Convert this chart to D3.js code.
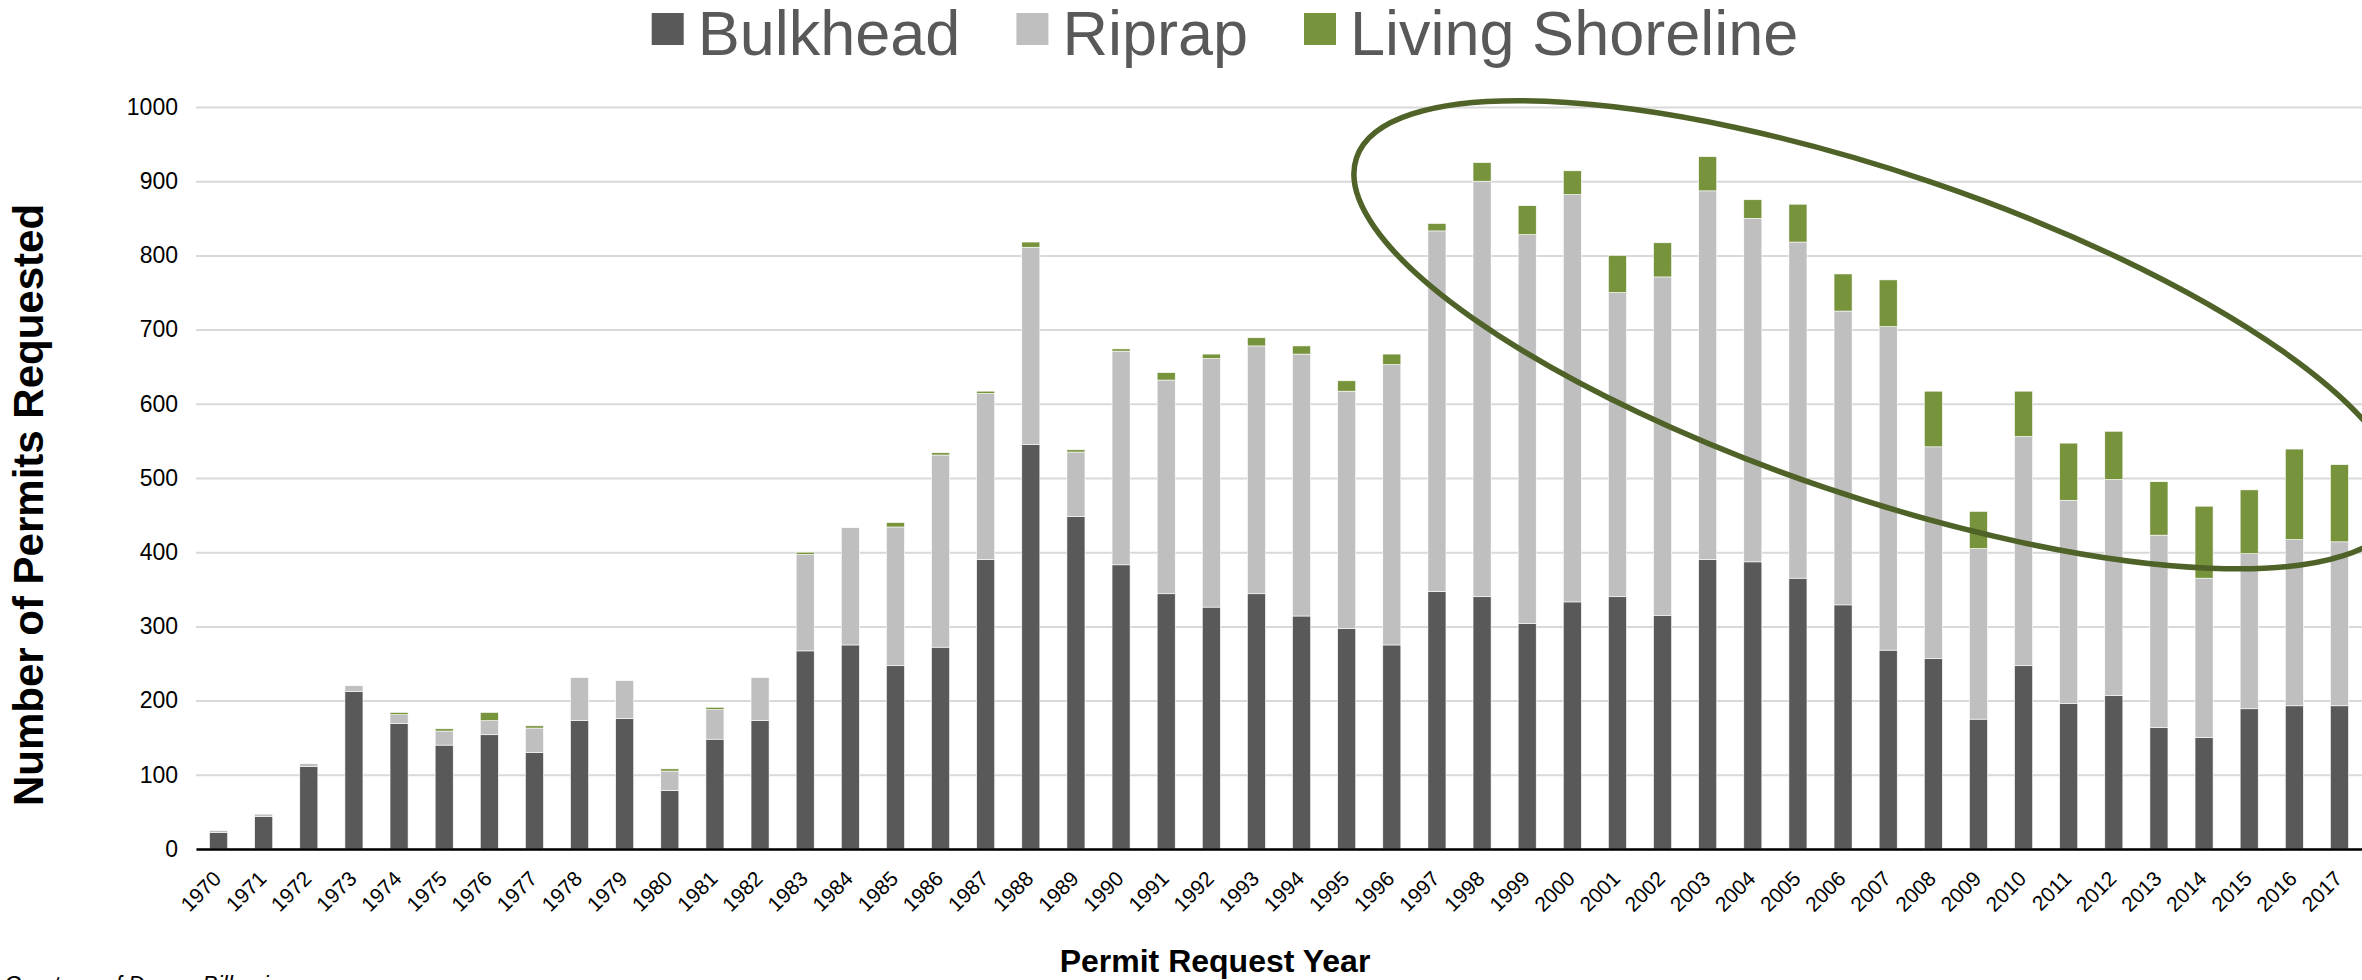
<!DOCTYPE html>
<html>
<head>
<meta charset="utf-8">
<script src="https://cdn.jsdelivr.net/npm/d3@7"></script>
<style>
  body { margin: 0; background: #fff; }
  svg { display: block; font-family: "Liberation Sans", Arial, sans-serif; }
</style>
</head>
<body>
<div id="chart"></div>
<script>
// categories + series
var years = ["1970","1971","1972","1973","1974","1975","1976","1977","1978","1979",
  "1980","1981","1982","1983","1984","1985","1986","1987","1988","1989",
  "1990","1991","1992","1993","1994","1995","1996","1997","1998","1999",
  "2000","2001","2002","2003","2004","2005","2006","2007","2008","2009",
  "2010","2011","2012","2013","2014","2015","2016","2017"];

var bulkhead = [22,44,111,212,169,140,154,130,173,176,
  79,148,173,267,275,247,272,390,545,448,
  383,344,326,344,314,297,275,347,340,304,
  333,340,315,390,387,365,329,268,257,175,
  247,196,207,164,150,189,193,193];

var riprap = [3,3,4,8,12,19,19,33,58,51,
  26,40,58,130,158,187,259,224,266,87,
  288,288,335,334,353,320,378,486,560,524,
  549,410,456,497,463,453,396,436,285,230,
  309,274,291,259,215,209,224,221];

var living = [0,0,0,0,3,3,11,3,0,0,
  3,3,0,3,0,6,3,3,7,3,
  3,10,6,11,11,14,14,10,25,39,
  32,50,46,46,25,51,50,63,75,50,
  61,77,65,72,97,86,122,104];

var yTicks = [0,100,200,300,400,500,600,700,800,900,1000];
var seriesNames = ["Bulkhead", "Riprap", "Living Shoreline"];
var seriesColors = ["#595959", "#bfbfbf", "#77933c"];

// circled region (in year / value units)
var ringCenterYear = 2006.77;
var ringCenterValue = 693;
var ringRadiusYears = 12.2;
var ringRadiusValue = 218;
var ringAngle = 18.75;

// svg and chart dimensions
var svgWidth = 2362;
var svgHeight = 980;

var margin = {
  top: 107,
  right: 0,
  bottom: 131,
  left: 196
};

var width = svgWidth - margin.left - margin.right;
var height = svgHeight - margin.top - margin.bottom;

var svg = d3.select("#chart")
  .append("svg")
  .attr("width", svgWidth)
  .attr("height", svgHeight);

var chartGroup = svg.append("g")
  .attr("transform", `translate(${margin.left}, ${margin.top})`);

// build table for the stack
var table = years.map(function(yr, i) {
  var row = { year: yr };
  row[seriesNames[0]] = bulkhead[i];
  row[seriesNames[1]] = riprap[i];
  row[seriesNames[2]] = living[i];
  return row;
});

var stacked = d3.stack().keys(seriesNames)(table);

// scales
var xBandScale = d3.scaleBand()
  .domain(years)
  .range([0, width])
  .paddingInner(0.6)
  .paddingOuter(0.3);

var yLinearScale = d3.scaleLinear()
  .domain([0, 1000])
  .range([height, 0]);

var color = d3.scaleOrdinal()
  .domain(seriesNames)
  .range(seriesColors);

// gridlines + y labels
var leftAxis = d3.axisLeft(yLinearScale)
  .tickValues(yTicks)
  .tickSize(-width)
  .tickPadding(18)
  .tickFormat(d3.format("d"));

var yAxisG = chartGroup.append("g").call(leftAxis);
yAxisG.select(".domain").remove();
yAxisG.selectAll(".tick line")
  .attr("stroke", "#d9d9d9")
  .attr("stroke-width", 2);
yAxisG.selectAll(".tick text")
  .attr("fill", "#000")
  .attr("font-size", 23)
  .attr("font-family", "Liberation Sans, Arial, sans-serif");

// bars
chartGroup.append("g")
  .selectAll("g")
  .data(stacked)
  .enter()
  .append("g")
  .attr("fill", d => color(d.key))
  .selectAll("rect")
  .data(d => d)
  .enter()
  .append("rect")
  .attr("x", d => xBandScale(d.data.year))
  .attr("y", d => yLinearScale(d[1]))
  .attr("height", d => yLinearScale(d[0]) - yLinearScale(d[1]))
  .attr("width", xBandScale.bandwidth())
  .attr("stroke", "#ffffff")
  .attr("stroke-width", 0.6);

// x axis
var bottomAxis = d3.axisBottom(xBandScale).tickSize(0);
var xAxisG = chartGroup.append("g")
  .attr("transform", `translate(0, ${height})`)
  .call(bottomAxis);

xAxisG.select(".domain")
  .attr("stroke", "#000")
  .attr("stroke-width", 2.5);

xAxisG.selectAll(".tick text")
  .attr("font-size", 21)
  .attr("font-family", "Liberation Sans, Arial, sans-serif")
  .attr("fill", "#000")
  .attr("text-anchor", "end")
  .attr("x", 4)
  .attr("y", 31)
  .attr("dy", 0)
  .attr("transform", "rotate(-45, 4, 31)");

// circled annotation
var yearScale = d3.scaleLinear()
  .domain([+years[0], +years[years.length - 1]])
  .range([xBandScale(years[0]) + xBandScale.bandwidth() / 2,
          xBandScale(years[years.length - 1]) + xBandScale.bandwidth() / 2]);

var ringCx = yearScale(ringCenterYear);
var ringCy = yLinearScale(ringCenterValue);

chartGroup.append("ellipse")
  .attr("cx", ringCx)
  .attr("cy", ringCy)
  .attr("rx", yearScale(ringCenterYear + ringRadiusYears) - ringCx)
  .attr("ry", yLinearScale(0) - yLinearScale(ringRadiusValue))
  .attr("transform", `rotate(${ringAngle}, ${ringCx}, ${ringCy})`)
  .attr("fill", "none")
  .attr("stroke", "#4f6228")
  .attr("stroke-width", 5.5);

// axis titles
svg.append("text")
  .attr("transform", "rotate(-90)")
  .attr("x", -505)
  .attr("y", 43)
  .attr("text-anchor", "middle")
  .attr("font-weight", "bold")
  .attr("font-size", 42)
  .attr("fill", "#000")
  .text("Number of Permits Requested");

svg.append("text")
  .attr("x", 1215)
  .attr("y", 972)
  .attr("text-anchor", "middle")
  .attr("font-weight", "bold")
  .attr("font-size", 32)
  .attr("fill", "#000")
  .text("Permit Request Year");

// credit line (cut off at the bottom like the original)
svg.append("text")
  .attr("x", 4)
  .attr("y", 993)
  .attr("font-style", "italic")
  .attr("font-size", 23)
  .attr("fill", "#000")
  .text("Courtesy of Donna Bilkovic");

// legend
var legend = svg.append("g");
var boxSize = 32;
var cursor = 0;
seriesNames.forEach(function(name, i) {
  var item = legend.append("g").attr("transform", `translate(${cursor}, 0)`);
  item.append("rect")
    .attr("x", 0)
    .attr("y", 13)
    .attr("width", boxSize)
    .attr("height", boxSize)
    .attr("fill", seriesColors[i]);
  var label = item.append("text")
    .attr("x", boxSize + 14)
    .attr("y", 55)
    .attr("font-size", 63)
    .attr("fill", "#595959")
    .text(name);
  cursor += boxSize + 14 + label.node().getComputedTextLength() + 56;
});
var legendWidth = cursor - 56;
legend.attr("transform", `translate(${1225 - legendWidth / 2}, 0)`);
</script>
</body>
</html>
